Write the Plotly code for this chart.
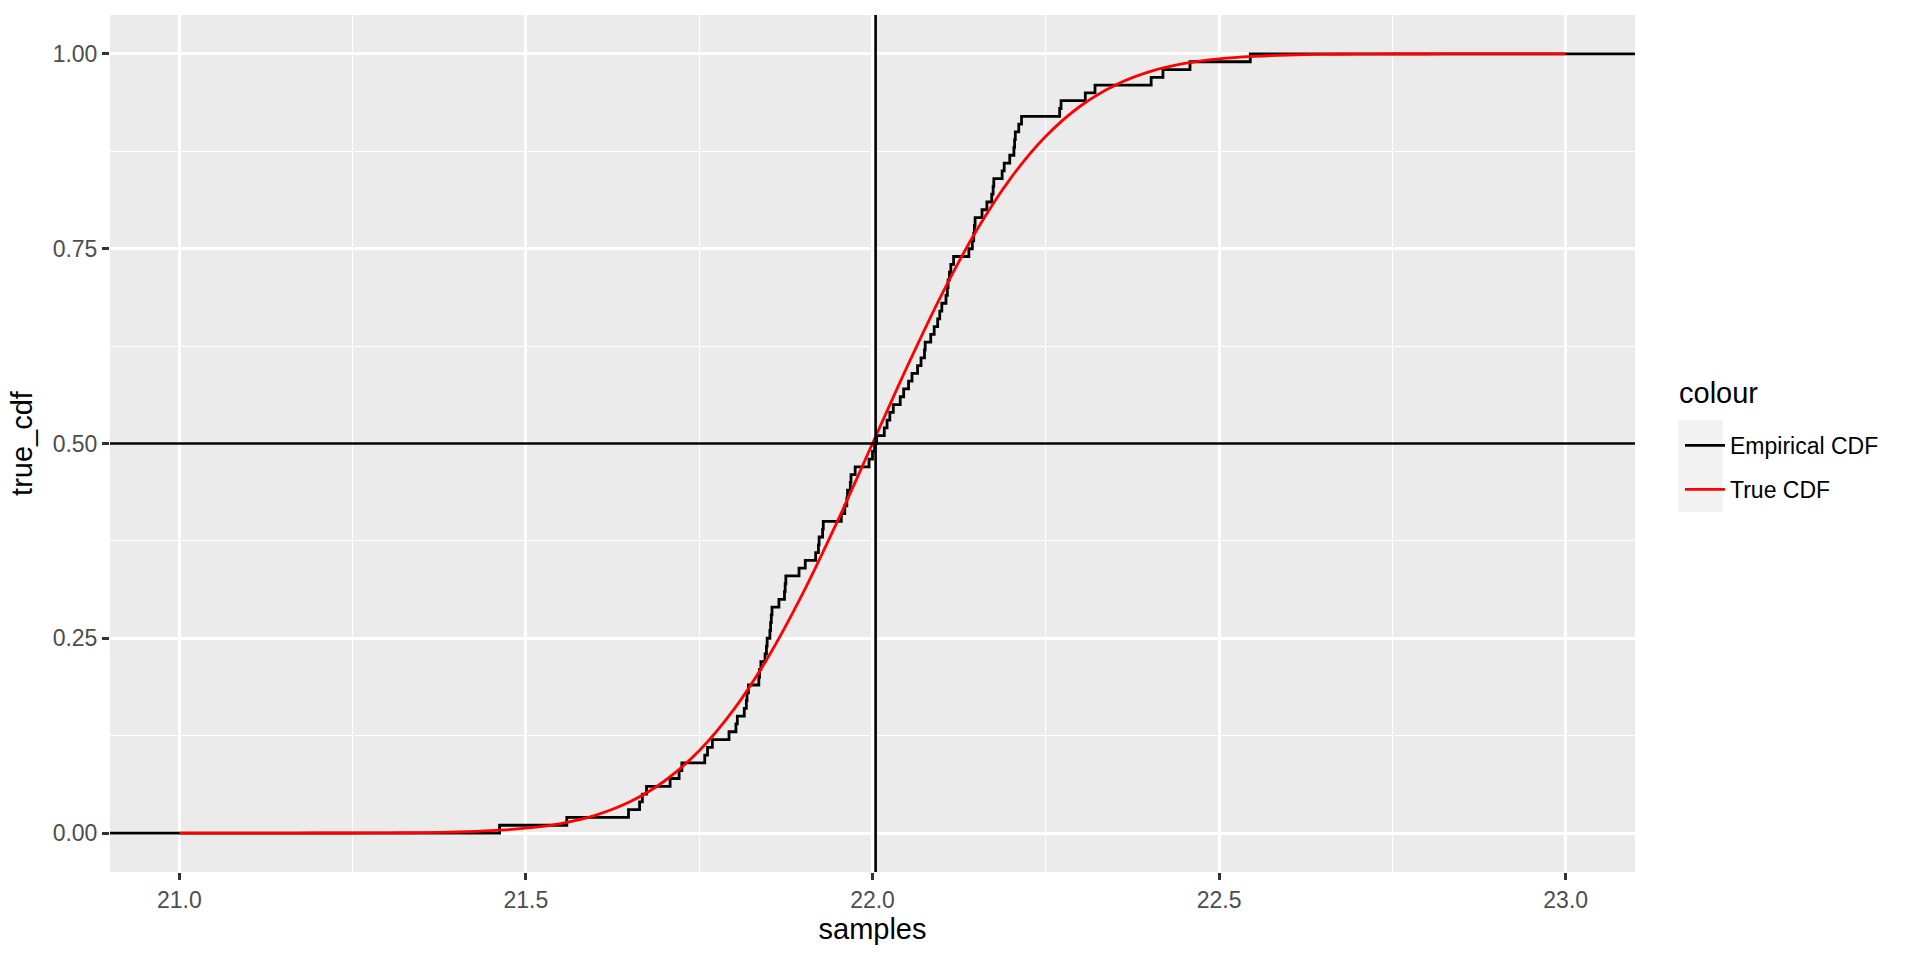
import numpy as np
import plotly.graph_objects as go

# ---------------- data ----------------
# 100 sorted samples read from the empirical CDF steps
samples = [
    21.462, 21.559, 21.648, 21.664, 21.668, 21.674, 21.708, 21.721, 21.725, 21.758,
    21.762, 21.769, 21.793, 21.803, 21.805, 21.815, 21.818, 21.819, 21.821, 21.836,
    21.837, 21.839, 21.845, 21.847, 21.848, 21.852, 21.853, 21.854, 21.855, 21.865,
    21.873, 21.874, 21.875, 21.894, 21.903, 21.918, 21.922, 21.923, 21.928, 21.929,
    21.955, 21.960, 21.963, 21.964, 21.968, 21.969, 21.975, 21.995, 22.000, 22.003,
    22.006, 22.017, 22.021, 22.025, 22.030, 22.040, 22.045, 22.052, 22.057, 22.065,
    22.070, 22.075, 22.076, 22.084, 22.089, 22.094, 22.097, 22.100, 22.106, 22.108,
    22.109, 22.111, 22.113, 22.117, 22.139, 22.144, 22.146, 22.147, 22.148, 22.158,
    22.165, 22.172, 22.174, 22.175, 22.187, 22.190, 22.198, 22.204, 22.205, 22.206,
    22.211, 22.215, 22.270, 22.272, 22.307, 22.321, 22.402, 22.419, 22.458, 22.545,
]

# true CDF curve read at x = 21.00, 21.05, ..., 23.00
true_x = [round(21.0 + 0.05 * i, 2) for i in range(41)]
true_cdf = [
    0.0000003, 0.0000010, 0.0000034, 0.0000107, 0.0000317, 0.0000884, 0.0002326,
    0.0005770, 0.0013499, 0.0029798, 0.0062097, 0.0122245, 0.0227501, 0.0400592,
    0.0668072, 0.1056498, 0.1586553, 0.2266274, 0.3085375, 0.4012937, 0.5,
    0.5987063, 0.6914625, 0.7733726, 0.8413447, 0.8943502, 0.9331928, 0.9599408,
    0.9772499, 0.9877755, 0.9937903, 0.9970202, 0.9986501, 0.9994230, 0.9997674,
    0.9999116, 0.9999683, 0.9999893, 0.9999966, 0.9999990, 0.9999997,
]

hline_level = 0.5
x_tick_vals = [21.0, 21.5, 22.0, 22.5, 23.0]
x_tick_text = ["21.0", "21.5", "22.0", "22.5", "23.0"]
y_tick_vals = [0.0, 0.25, 0.5, 0.75, 1.0]
y_tick_text = ["0.00", "0.25", "0.50", "0.75", "1.00"]
series_names = ["Empirical CDF", "True CDF"]
legend_title = "colour"

# ---------------- derived ----------------
n = len(samples)
xlo, xhi = min(true_x), max(true_x)
xpad = 0.05 * (xhi - xlo)
x_range = [xlo - xpad, xhi + xpad]
y_range = [-0.05, 1.05]

ecdf_x = [x_range[0]] + list(samples) + [x_range[1]]
ecdf_y = [0.0] + [(i + 1) / n for i in range(n)] + [1.0]
vline_x = float(np.median(samples))

FONT = "Liberation Sans, Arial, Helvetica, sans-serif"

fig = go.Figure()
fig.add_trace(go.Scatter(
    x=ecdf_x, y=ecdf_y, mode="lines", name=series_names[0],
    line=dict(color="#000000", width=2.8, shape="hv"), legendgroup="a",
))
fig.add_trace(go.Scatter(
    x=true_x, y=true_cdf, mode="lines", name=series_names[1],
    line=dict(color="#FF0000", width=2.8, shape="spline", smoothing=1.0), legendgroup="b",
))

fig.add_shape(type="line", xref="x", yref="paper", x0=vline_x, x1=vline_x, y0=0, y1=1,
              line=dict(color="#000000", width=2.6), layer="above")
fig.add_shape(type="line", xref="paper", yref="paper", x0=0, x1=1,
              y0=(hline_level - y_range[0]) / (y_range[1] - y_range[0]),
              y1=(hline_level - y_range[0]) / (y_range[1] - y_range[0]),
              line=dict(color="#000000", width=2.6), layer="above")

W, H = 1920, 960
ml, mr, mt, mb = 110, 285, 15, 88
pw, ph = W - ml - mr, H - mt - mb

def px_to_paper_x(px):
    return (px - ml) / pw

def px_to_paper_y(py):
    return 1 - (py - mt) / ph

# grey legend-key background
fig.add_shape(type="rect", xref="paper", yref="paper",
              x0=px_to_paper_x(1678), x1=px_to_paper_x(1723),
              y0=px_to_paper_y(512), y1=px_to_paper_y(420),
              fillcolor="#F2F2F2", line=dict(width=0), layer="below")

# legend title
fig.add_annotation(
    xref="paper", yref="paper", x=px_to_paper_x(1677), y=px_to_paper_y(393),
    xanchor="left", yanchor="middle", showarrow=False, text=legend_title,
    font=dict(family=FONT, size=29, color="#000000"),
)

axis_common = dict(
    showline=False, zeroline=False,
    ticks="outside", ticklen=7, tickwidth=2.5, tickcolor="#333333",
    tickfont=dict(family=FONT, size=23, color="#4D4D4D"),
    showgrid=True, gridcolor="#FFFFFF", gridwidth=2.7,
)

fig.update_layout(
    width=W, height=H,
    margin=dict(l=ml, r=mr, t=mt, b=mb, autoexpand=False),
    paper_bgcolor="#FFFFFF", plot_bgcolor="#EBEBEB",
    font=dict(family=FONT, color="#000000"),
    xaxis=dict(
        range=x_range, tickmode="array", tickvals=x_tick_vals, ticktext=x_tick_text,
        minor=dict(dtick=0.25, tick0=21.0, showgrid=True, gridcolor="#FFFFFF", gridwidth=1.4, ticks=""),
        title=dict(text="samples", font=dict(family=FONT, size=29, color="#000000"), standoff=2),
        automargin=False,
        **axis_common,
    ),
    yaxis=dict(
        range=y_range, tickmode="array", tickvals=y_tick_vals, ticktext=y_tick_text,
        minor=dict(dtick=0.125, tick0=0.0, showgrid=True, gridcolor="#FFFFFF", gridwidth=1.4, ticks=""),
        title=dict(text="true_cdf", font=dict(family=FONT, size=29, color="#000000"), standoff=11),
        automargin=False,
        **axis_common,
    ),
    showlegend=True,
    legend=dict(
        x=px_to_paper_x(1680), xanchor="left",
        y=px_to_paper_y(424), yanchor="top",
        bgcolor="rgba(0,0,0,0)", borderwidth=0,
        font=dict(family=FONT, size=23, color="#000000"),
        tracegroupgap=11, itemwidth=40,
    ),
)

fig.write_html("out.html", config={"displayModeBar": False},
               post_script="document.body.style.margin='0';")
